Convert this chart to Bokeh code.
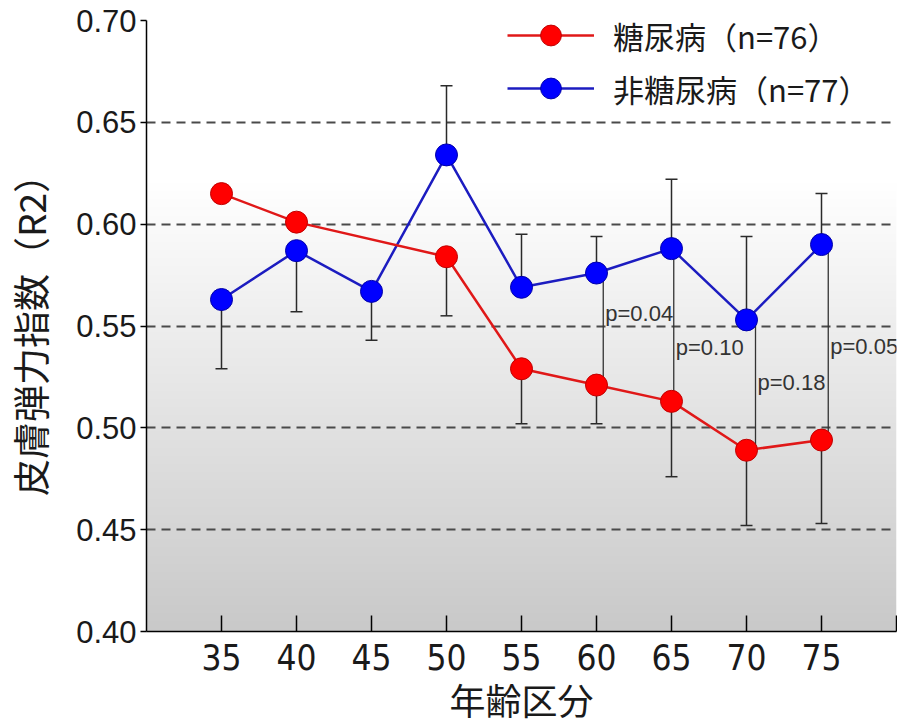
import numpy as np
from bokeh.plotting import figure
from bokeh.models import FixedTicker, Legend, LegendItem, Label, PrintfTickFormatter, ColumnDataSource
from bokeh.core.properties import value
from bokeh.embed import file_html
from bokeh.resources import INLINE
try:
    from bokeh.models import HTMLLabel as NoteLabel
except ImportError:
    NoteLabel = Label

# ---------------- data ----------------
age_ticks = [35, 40, 45, 50, 55, 60, 65, 70, 75, 80]
y_ticks = [0.40, 0.45, 0.50, 0.55, 0.60, 0.65, 0.70]
grid_levels = [0.45, 0.50, 0.55, 0.60, 0.65]

dm_name = "糖尿病（n=76）"
dm_ages = [35, 40, 50, 55, 60, 65, 70, 75]
dm_mean = [0.615, 0.601, 0.584, 0.529, 0.521, 0.513, 0.489, 0.494]
dm_err_end = [None, None, 0.555, 0.502, 0.502, 0.476, 0.452, 0.453]

ndm_name = "非糖尿病（n=77）"
ndm_ages = [35, 40, 45, 50, 55, 60, 65, 70, 75]
ndm_mean = [0.563, 0.587, 0.567, 0.634, 0.569, 0.576, 0.588, 0.553, 0.590]
ndm_err_end = [0.529, 0.557, 0.543, 0.668, 0.595, 0.594, 0.622, 0.594, 0.615]

p_ages = [60, 65, 70, 75]
p_texts = ["p=0.04", "p=0.10", "p=0.18", "p=0.05"]

x_label = "年齢区分"
y_label = "皮膚弾力指数（R2）"
unit_note = "（mm）"

# ---------------- style ----------------
RED_LINE, RED_FILL, RED_EDGE = "#e01818", "#ff0000", "#c00000"
BLUE_LINE, BLUE_FILL, BLUE_EDGE = "#1c1cc0", "#0000ff", "#0000a8"
CJK = "Noto Sans CJK JP"
bracket_dx = [0.45, 0.15, 0.6, 0.45]       # small horizontal shift of p brackets
label_dy = [0.0075, -0.011, 0.0015, -0.002] # label vertical shift from bracket middle
NOTE_POS = (26.1, 0.3575)                   # where the small unit note sits (below-left)

p = figure(frame_width=750, frame_height=611, x_range=(30, 80), y_range=(0.40, 0.70),
           output_backend="svg", toolbar_location=None,
           min_border_left=139, min_border_top=20, min_border_right=1, min_border_bottom=92)
p.outline_line_color = None
p.background_fill_color = "white"
p.border_fill_color = "white"

# gradient background
H = 300
vals = np.linspace(0.40, 0.70, H)
g = np.where(vals >= 0.62, 255, 255 - (0.62 - vals) / 0.22 * 54).astype(np.uint8)
img = np.zeros((H, 2), dtype=np.uint32)
view = img.view(dtype=np.uint8).reshape((H, 2, 4))
view[:, :, 0] = g[:, None]
view[:, :, 1] = g[:, None]
view[:, :, 2] = g[:, None]
view[:, :, 3] = 255
p.image_rgba(image=[img], x=30, y=0.40, dw=50, dh=0.30, level="image")

# grid
p.xgrid.visible = False
p.ygrid.ticker = FixedTicker(ticks=grid_levels)
p.ygrid.grid_line_color = "#4a4a4a"
p.ygrid.grid_line_width = 2
p.ygrid.grid_line_dash = "9 6"

# axes
p.xaxis.ticker = FixedTicker(ticks=age_ticks)
p.xaxis.major_label_overrides = {80: ""}
p.xaxis.major_tick_in = 16
p.xaxis.major_tick_out = 0
p.xaxis.minor_tick_line_color = None
p.xaxis.axis_line_width = 1.5
p.xaxis.major_tick_line_width = 1.5
p.xaxis.major_label_text_font = "'Liberation Sans Narrow', 'DejaVu Sans Condensed', 'Liberation Sans'"
p.xaxis.major_label_text_font_size = "35px"
p.xaxis.major_label_text_color = "#1a1a1a"
p.xaxis.major_label_standoff = 12
p.xaxis.axis_label = x_label
p.xaxis.axis_label_text_font = CJK
p.xaxis.axis_label_text_font_size = "36px"
p.xaxis.axis_label_text_font_style = "normal"
p.xaxis.axis_label_text_color = "#1a1a1a"
p.xaxis.axis_label_standoff = 0

p.yaxis.ticker = FixedTicker(ticks=y_ticks)
p.yaxis.formatter = PrintfTickFormatter(format="%.2f")
p.yaxis.major_tick_in = 0
p.yaxis.major_tick_out = 6
p.yaxis.minor_tick_line_color = None
p.yaxis.axis_line_width = 1.5
p.yaxis.major_tick_line_width = 1.5
p.yaxis.major_label_text_font = "Liberation Sans"
p.yaxis.major_label_text_font_size = "31px"
p.yaxis.major_label_text_color = "#1a1a1a"
p.yaxis.major_label_standoff = 4
p.yaxis.axis_label = y_label
p.yaxis.axis_label_text_font = CJK
p.yaxis.axis_label_text_font_size = "37px"
p.yaxis.axis_label_text_font_style = "normal"
p.yaxis.axis_label_text_color = "#1a1a1a"
p.yaxis.axis_label_standoff = 16

# error bars
def err_source(ages, means, ends):
    xs = [a for a, e in zip(ages, ends) if e is not None]
    y0 = [m for m, e in zip(means, ends) if e is not None]
    y1 = [e for e in ends if e is not None]
    return ColumnDataSource(dict(x=xs, y0=y0, y1=y1))

for src in (err_source(dm_ages, dm_mean, dm_err_end), err_source(ndm_ages, ndm_mean, ndm_err_end)):
    p.segment(x0="x", y0="y0", x1="x", y1="y1", source=src, line_color="#2a2a2a", line_width=1.5)
    p.scatter(x="x", y="y1", source=src, marker="dash", size=12, line_color="#2a2a2a", line_width=1.5)

# p-value brackets
dm_lookup = dict(zip(dm_ages, dm_mean))
ndm_lookup = dict(zip(ndm_ages, ndm_mean))
bx = [a + d for a, d in zip(p_ages, bracket_dx)]
btop = [ndm_lookup[a] for a in p_ages]
bbot = [dm_lookup[a] for a in p_ages]
p.segment(x0=bx, y0=btop, x1=bx, y1=bbot, line_color="#333333", line_width=1.3)
ly = [(t + b) / 2 + d for t, b, d in zip(btop, bbot, label_dy)]
p.text(x=bx, y=ly, text=p_texts, x_offset=2, text_align="left", text_baseline="middle",
       text_font=value("Liberation Sans"), text_font_size="22px", text_color="#333333")

# series
ndm_line = p.line(ndm_ages, ndm_mean, line_color=BLUE_LINE, line_width=2.5)
ndm_pts = p.scatter(ndm_ages, ndm_mean, size=22, fill_color=BLUE_FILL, line_color=BLUE_EDGE, line_width=1)
dm_line = p.line(dm_ages, dm_mean, line_color=RED_LINE, line_width=2.5)
dm_pts = p.scatter(dm_ages, dm_mean, size=22, fill_color=RED_FILL, line_color=RED_EDGE, line_width=1)

legend = Legend(items=[LegendItem(label=dm_name, renderers=[dm_line, dm_pts]),
                       LegendItem(label=ndm_name, renderers=[ndm_line, ndm_pts])],
                location=(361, 517), padding=0, margin=0, spacing=1,
                glyph_width=87, glyph_height=52, label_height=52, label_standoff=19,
                label_text_font=CJK, label_text_font_size="31px", label_text_color="#1a1a1a",
                border_line_alpha=0, background_fill_alpha=0)
p.add_layout(legend)

p.add_layout(NoteLabel(x=NOTE_POS[0], y=NOTE_POS[1], text=unit_note,
                       text_font="Liberation Sans", text_font_size="11px", text_color="#444444",
                       text_align="center", text_baseline="middle"))

open("out.html", "w").write(file_html(p, INLINE))
